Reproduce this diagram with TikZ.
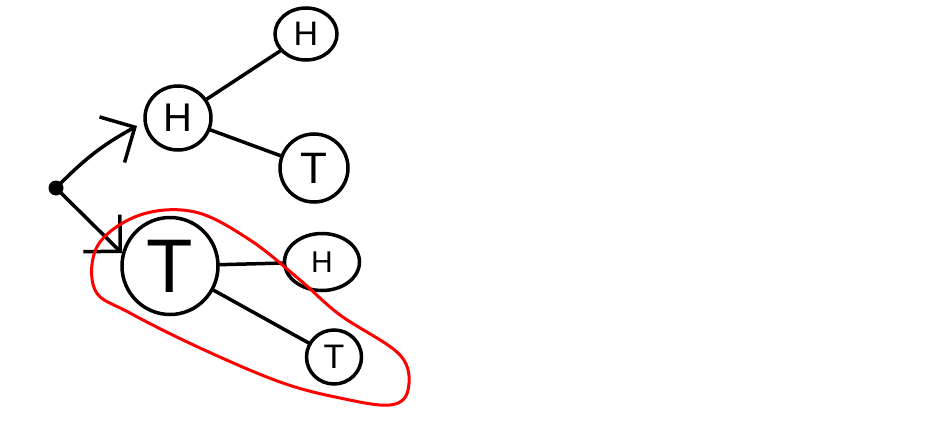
\documentclass[tikz,border=0pt]{standalone}
\usepackage{fontspec}
\setmainfont{Liberation Sans}
\usetikzlibrary{shapes.geometric,arrows.meta}
\tikzset{
  coin/.style={draw, ellipse, line width=3.5pt, inner sep=0pt},
  branch/.style={line width=3.5pt, line cap=round},
  barb/.style={-{Straight Barb[length=26pt, width=52pt, line width=3.5pt]}},
}
\begin{document}
\begin{tikzpicture}[x=1pt, y=-1pt]
  \useasboundingbox (0,0) rectangle (949,428);
  % start point
  \node[circle, fill, inner sep=0pt, minimum size=15pt] (root) at (56,188) {};
  % first toss
  \node[coin, minimum width=66pt, minimum height=64pt, font=\fontsize{40}{40}\selectfont] (h1) at (178,118) {H};
  \node[coin, minimum width=96pt, minimum height=97pt, font=\fontsize{76}{76}\selectfont] (t1) at (170,266) {T};
  % second toss
  \node[coin, minimum width=62pt, minimum height=52pt, font=\fontsize{34}{34}\selectfont] (hh) at (306,34) {H};
  \node[coin, minimum width=68pt, minimum height=68pt, font=\fontsize{44}{44}\selectfont] (ht) at (314,168) {T};
  \node[coin, minimum width=75pt, minimum height=57pt, font=\fontsize{30}{30}\selectfont] (th) at (322,262) {H};
  \node[coin, minimum width=55pt, minimum height=54pt, font=\fontsize{34}{34}\selectfont] (tt) at (334,357) {T};
  % branches
  \coordinate (h1tip) at (137,126);
  \draw[branch, barb] (root) to[bend left=8] (h1tip);
  \draw[branch, barb] (root) -- (t1.165);
  \draw[branch] (h1) -- (hh);
  \draw[branch] (h1) -- (ht);
  \draw[branch] (t1) -- (th);
  \draw[branch] (t1) -- (tt);
  % tails subtree marked in red
  \draw[red, line width=3pt] plot[smooth cycle, tension=0.6] coordinates {
    (95,290) (98,245) (140,215) (195,212) (250,240) (300,280) (340,315)
    (400,355) (408,390) (390,405) (340,398) (280,382) (200,348) (130,313)};
\end{tikzpicture}
\end{document}
